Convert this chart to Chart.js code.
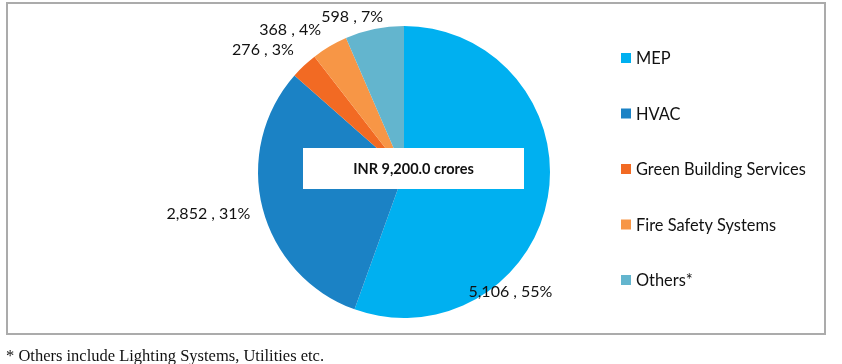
<!DOCTYPE html>
<html lang="en">
<head>
<meta charset="UTF-8">
<title>Segment Split</title>
<script src="https://cdn.jsdelivr.net/npm/chart.js"></script>
<style>
  html, body { margin: 0; padding: 0; background: #fff; }
  body { width: 842px; height: 364px; position: relative; overflow: hidden; }
  #frame {
    position: absolute; left: 6px; top: 2px; width: 820px; height: 333px;
    box-sizing: border-box; border: 2px solid #ababab;
  }
  #chart { position: absolute; left: 0; top: 0; }
  #note {
    position: absolute; left: 6px; top: 346px;
    font-family: "Liberation Serif", serif; font-size: 16.5px; color: #111;
  }
</style>
</head>
<body>
<div id="frame"></div>
<canvas id="chart" width="842" height="364"></canvas>
<div id="note">* Others include Lighting Systems, Utilities etc.</div>

<script>
// segments, clockwise from 12 o'clock
const segments = ['MEP', 'HVAC', 'Green Building Services', 'Fire Safety Systems', 'Others*'];
const values = [5106, 2852, 276, 368, 598];
const shares = [55, 31, 3, 4, 7];   // % as printed on the chart
const colors = ['#00B0F0', '#1B82C5', '#F26A23', '#F79646', '#63B5CE'];
const totalLabel = 'INR 9,200.0 crores';

// where each data label sits: angle (deg, clockwise from top) and distance in radii
const labelSpots = [
  { a: 138.5, f: 1.10 },
  { a: 257.9, f: 1.37 },
  { a: 311.0, f: 1.28 },
  { a: 321.4, f: 1.25 },
  { a: 341.5, f: 1.12 }
];

const fmt = n => n.toLocaleString('en-US');

const overlay = {
  id: 'overlay',
  afterDatasetsDraw(chart) {
    const ctx = chart.ctx;
    const arc = chart.getDatasetMeta(0).data[0];
    const cx = arc.x, cy = arc.y, r = arc.outerRadius;

    // data labels
    ctx.save();
    ctx.fillStyle = '#111';
    ctx.font = '16px Lato';
    ctx.textAlign = 'center';
    ctx.textBaseline = 'middle';
    values.forEach((v, i) => {
      const s = labelSpots[i];
      const rad = s.a * Math.PI / 180;
      const x = cx + Math.sin(rad) * r * s.f;
      const y = cy - Math.cos(rad) * r * s.f;
      ctx.fillText(fmt(v) + ' , ' + shares[i] + '%', x, y);
    });

    // total box in the middle
    ctx.fillStyle = '#ffffff';
    ctx.fillRect(cx - 101, cy - 24, 221, 41);
    ctx.fillStyle = '#111';
    ctx.font = 'bold 14.5px Lato';
    ctx.fillText(totalLabel, cx + 9.5, cy - 3);

    // legend
    ctx.textAlign = 'left';
    ctx.font = '16.4px Lato';
    segments.forEach((name, i) => {
      const y = 58 + i * 55.5;
      ctx.fillStyle = colors[i];
      ctx.fillRect(621, y - 5, 10, 10);
      ctx.fillStyle = '#111';
      ctx.fillText(name, 636, y + 1);
    });
    ctx.restore();
  }
};

new Chart(document.getElementById('chart'), {
  type: 'pie',
  data: {
    labels: segments,
    datasets: [{
      data: values,
      backgroundColor: colors,
      borderWidth: 0
    }]
  },
  options: {
    responsive: false,
    animation: false,
    layout: { padding: { left: 258, right: 292, top: 26, bottom: 46 } },
    plugins: {
      legend: { display: false },
      tooltip: { enabled: false }
    }
  },
  plugins: [overlay]
});
</script>
</body>
</html>
